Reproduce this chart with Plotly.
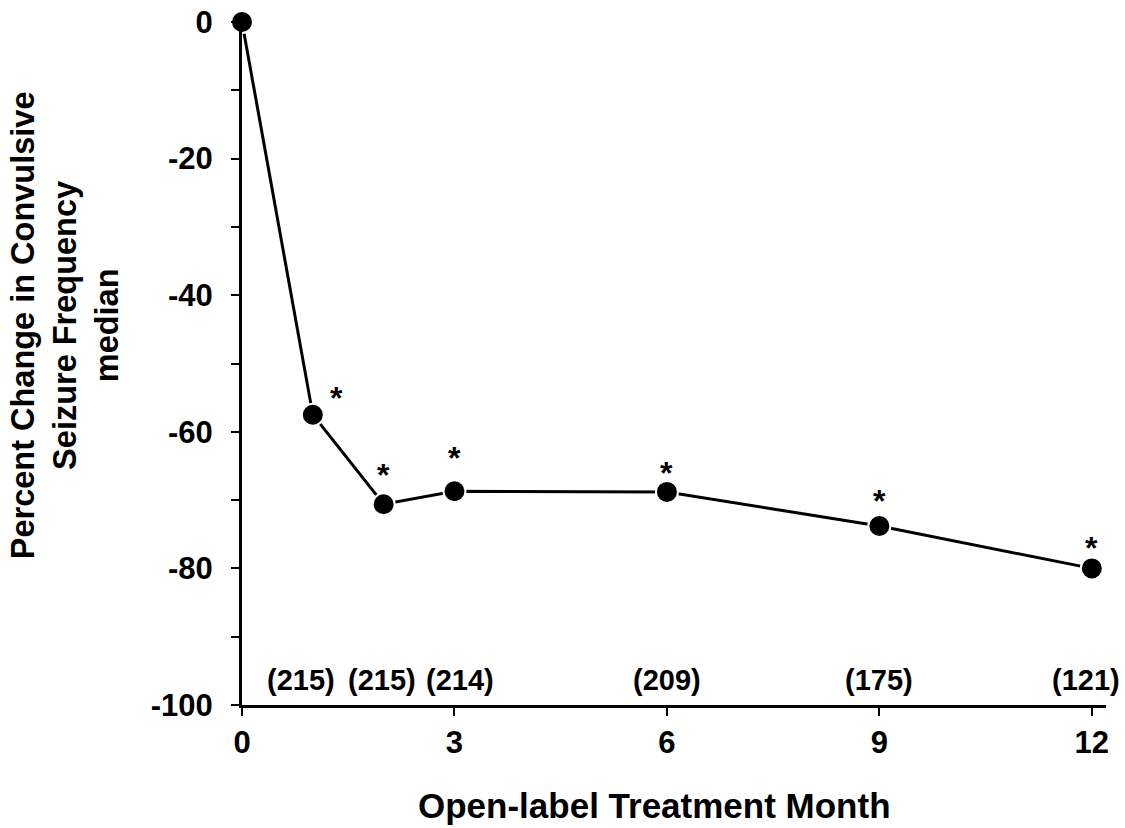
import plotly.graph_objects as go

months = [0, 1, 2, 3, 6, 9, 12]
pct_change = [0, -57.5, -70.6, -68.7, -68.8, -73.8, -80.0]
sig_months = [1, 2, 3, 6, 9, 12]
n_months = [1, 2, 3, 6, 9, 12]
n_labels = ["(215)", "(215)", "(214)", "(209)", "(175)", "(121)"]
x_ticks = [0, 3, 6, 9, 12]
y_ticks = [0, -20, -40, -60, -80, -100]

FONT = "Liberation Sans, Arial, sans-serif"

fig = go.Figure()
fig.add_trace(go.Scatter(
    x=months, y=pct_change, mode="lines+markers",
    line=dict(color="black", width=3),
    marker=dict(size=22, color="black", line=dict(color="white", width=2)),
    cliponaxis=False, showlegend=False,
))

# significance asterisks (pixel offsets per point)
ast_dx = [24, 0, 0, 0, 0, 0]
ast_dy = [17, 29, 33, 19, 25, 20]
lookup = dict(zip(months, pct_change))
for m, dx, dy in zip(sig_months, ast_dx, ast_dy):
    fig.add_annotation(x=m, y=lookup[m], text="<b>*</b>", showarrow=False,
                       xshift=dx, yshift=dy, yanchor="middle",
                       font=dict(family=FONT, size=32, color="black"))

# N labels
n_dx = [-12, -2, 6, 0, 0, -6]
for m, lab, dx in zip(n_months, n_labels, n_dx):
    fig.add_annotation(x=m, y=0, yref="paper", text="<b>" + lab + "</b>",
                       showarrow=False, xshift=dx, yshift=25, yanchor="middle",
                       font=dict(family=FONT, size=29, color="black"))

# y-axis title
fig.add_annotation(x=0, y=0.556, xref="paper", yref="paper",
                   text="<b>Percent Change in Convulsive<br>Seizure Frequency<br>median</b>",
                   textangle=-90, showarrow=False, xanchor="center", yanchor="middle",
                   xshift=-177, font=dict(family=FONT, size=32.5, color="black"))

# x-axis title
fig.add_annotation(x=0.5, y=0, xref="paper", yref="paper",
                   text="<b>Open-label Treatment Month</b>",
                   showarrow=False, xanchor="center", yanchor="middle",
                   xshift=-20, yshift=-100, font=dict(family=FONT, size=35, color="black"))

fig.update_layout(
    width=1125, height=828,
    margin=dict(l=242, r=19, t=22, b=123, autoexpand=False),
    paper_bgcolor="white", plot_bgcolor="white",
    font=dict(family=FONT, color="black"),
    xaxis=dict(
        range=[0, 12.2], tickvals=x_ticks, ticktext=["<b>%d</b>" % v for v in x_ticks],
        ticks="outside", ticklen=8, tickwidth=2, tickcolor="black",
        showline=True, linecolor="black", linewidth=3, showgrid=False, zeroline=False,
        tickfont=dict(family=FONT, size=31, color="black"),
        ticklabeloverflow="allow", automargin=False,
    ),
    yaxis=dict(
        range=[-100, 0], tickvals=y_ticks, ticktext=["<b>%d</b>" % v for v in y_ticks],
        ticks="outside", ticklen=8, tickwidth=2, tickcolor="black",
        minor=dict(tickvals=[-10, -30, -50, -70, -90], ticks="outside", ticklen=8,
                   tickwidth=2, tickcolor="black"),
        showline=True, linecolor="black", linewidth=3, showgrid=False, zeroline=False,
        tickfont=dict(family=FONT, size=31, color="black"),
        ticklabeloverflow="allow", ticklabelstandoff=12, automargin=False,
    ),
)

fig.write_html("out.html", config={"displayModeBar": False},
               post_script="document.body.style.margin='0';")
